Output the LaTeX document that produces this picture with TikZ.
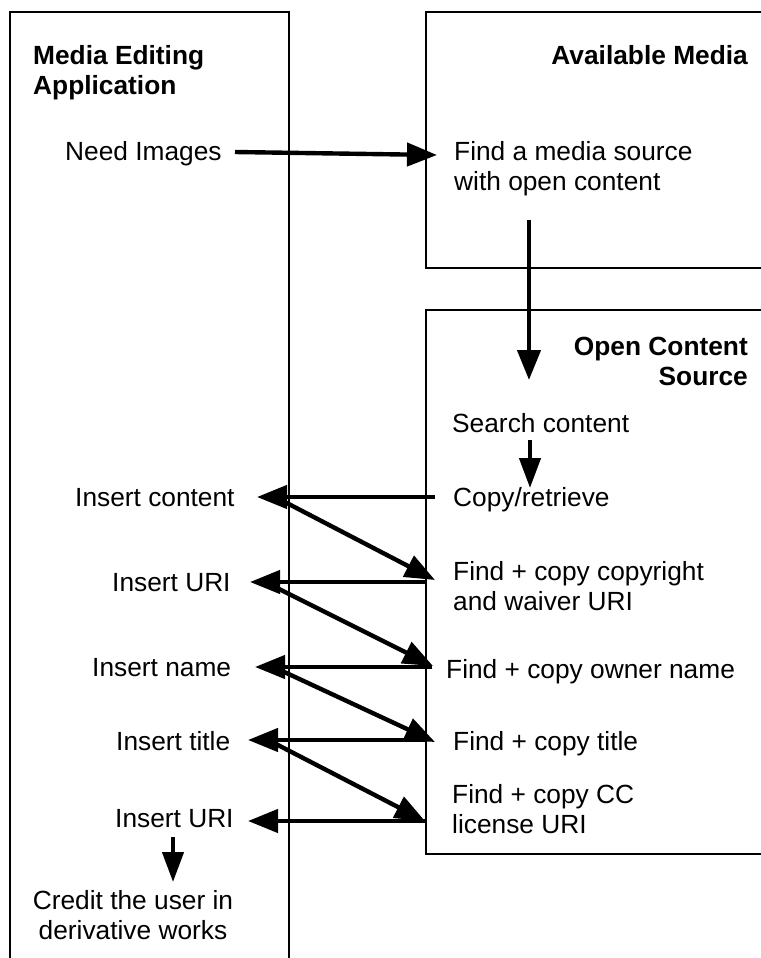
\documentclass[tikz,border=0pt]{standalone}
\usepackage{fontspec}
\setmainfont{Liberation Sans}
\usetikzlibrary{arrows.meta}

\begin{document}
\begin{tikzpicture}[x=1pt,y=-1pt,
  lane/.style={draw, line width=1.8pt},
  txt/.style={inner sep=0pt, anchor=base west, align=left,
    font=\fontsize{26.3}{30}\selectfont},
  rtxt/.style={txt, anchor=base east, align=right},
  ctxt/.style={txt, anchor=base, align=center},
  head/.style={txt, font=\fontsize{26.3}{30}\selectfont\bfseries},
  rhead/.style={rtxt, font=\fontsize{26.3}{30}\selectfont\bfseries},
  flow/.style={line width=4.4pt, -{Triangle[length=30pt,width=23pt]}},
  smallflow/.style={line width=4.4pt, -{Triangle[length=30pt,width=21pt]}}
]
\useasboundingbox (0,0) rectangle (760,958);
\fill[white] (0,0) rectangle (760,958);

% swim lanes (open towards the page edges)
\draw[lane] (10,962) -- (10,12) -- (289,12) -- (289,962);
\draw[lane] (764,12) -- (426,12) -- (426,268) -- (764,268);
\draw[lane] (764,310) -- (426,310) -- (426,854) -- (764,854);

% lane titles (multi-line nodes are placed by their last baseline)
\node[head] (tApp) at (33,94) {Media Editing\\Application};
\node[rhead] (tAvail) at (748,64) {Available Media};
\node[rhead] (tOpen) at (748,385) {Open Content\\Source};

% left lane steps
\node[txt] (need) at (65,160) {Need Images};
\node[txt] (insC) at (75,506) {Insert content};
\node[txt] (insU1) at (112,591) {Insert URI};
\node[txt] (insN) at (92,676) {Insert name};
\node[txt] (insT) at (116,750) {Insert title};
\node[txt] (insU2) at (115,827) {Insert URI};
\node[ctxt] (credit) at (133,939) {Credit the user in\\derivative works};

% right lane steps
\node[txt] (findSrc) at (454,190) {Find a media source\\with open content};
\node[txt] (search) at (452,432) {Search content};
\node[txt] (copy) at (453,506) {Copy/retrieve};
\node[txt] (fCopy) at (453,610) {Find + copy copyright\\and waiver URI};
\node[txt] (fOwner) at (446,678) {Find + copy owner name};
\node[txt] (fTitle) at (453,750) {Find + copy title};
\node[txt] (fCC) at (452,833) {Find + copy CC\\license URI};

% connector end points
\coordinate (needE) at (235,152);
\coordinate (findW) at (437,155);
\coordinate (availS) at (529,220);
\coordinate (openIn) at (529,380);
\coordinate (searchS) at (530,440);
\coordinate (copyN) at (530,488);
\coordinate (copyW) at (435,497);
\coordinate (insCE) at (257,497);
\coordinate (insCD) at (281,500);
\coordinate (fCopyW) at (435,580);
\coordinate (fCopyL) at (427,582);
\coordinate (insU1E) at (250,582);
\coordinate (insU1D) at (271,585);
\coordinate (fOwnerW) at (433,666);
\coordinate (fOwnerL) at (432,667);
\coordinate (insNE) at (255,667);
\coordinate (insND) at (280,670);
\coordinate (fTitleW) at (435,742);
\coordinate (fTitleL) at (427,740);
\coordinate (insTE) at (248,740);
\coordinate (insTD) at (276,744);
\coordinate (fCCW) at (425,821);
\coordinate (fCCL) at (426,821);
\coordinate (insU2E) at (248,821);
\coordinate (insU2S) at (173,837);
\coordinate (creditN) at (173,882);

% flows
\draw[flow] (needE) -- (findW);
\draw[flow] (availS) -- (openIn);
\draw[smallflow] (searchS) -- (copyN);
\draw[flow] (copyW) -- (insCE);
\draw[flow] (insCD) -- (fCopyW);
\draw[flow] (fCopyL) -- (insU1E);
\draw[flow] (insU1D) -- (fOwnerW);
\draw[flow] (fOwnerL) -- (insNE);
\draw[flow] (insND) -- (fTitleW);
\draw[flow] (fTitleL) -- (insTE);
\draw[flow] (insTD) -- (fCCW);
\draw[flow] (fCCL) -- (insU2E);
\draw[smallflow] (insU2S) -- (creditN);
\end{tikzpicture}
\end{document}
